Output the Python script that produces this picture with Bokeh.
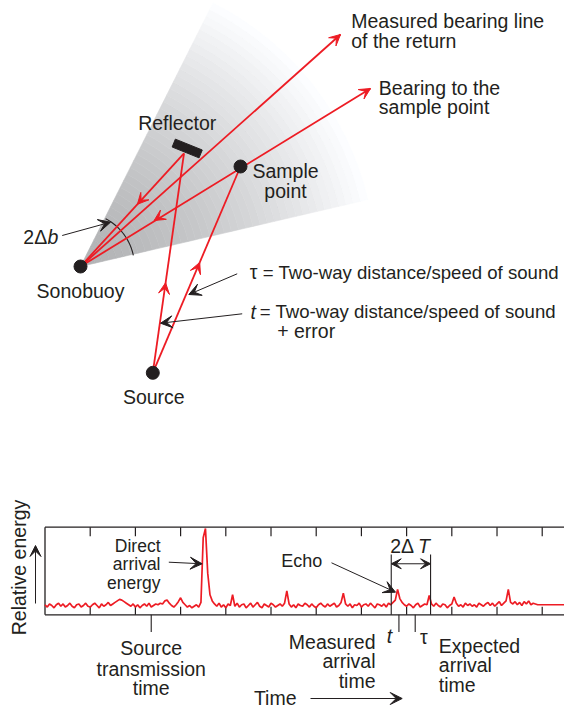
import numpy as np
from bokeh.plotting import figure
from bokeh.models import Range1d, Arrow, VeeHead, ColumnDataSource
from bokeh.core.properties import value
from bokeh.embed import file_html
from bokeh.resources import INLINE

RED = "#ed1c24"
INK = "#231f20"
FONT = value("Liberation Sans")

# ---------------- diagram geometry (page pixels, y downward) ----------------
point_x = [80.0, 240.0, 152.3]          # sonobuoy, sample point, source
point_y = [266.0, 166.0, 372.3]
sonobuoy = (point_x[0], point_y[0])
sample_pt = (point_x[1], point_y[1])
source_pt = (point_x[2], point_y[2])
reflector_foot = (183.5, 152.8)
measured_tip = (340.0, 34.0)
bearing_tip = (370.0, 88.0)
reflector_center = (186.7, 148.0)
reflector_size = (29.0, 8.5)
reflector_tilt_deg = 22.0
beam_edges_deg = (13.1, 63.3)
beam_reach = 295.0
arc_radius = 54.0
arc_span_deg = (11.8, 62.3)

# ---------------- time series chart ----------------
tick_times = [10, 20, 30, 40, 50, 60, 70, 80, 90, 100, 110]
trace_start, trace_step = 0.0, 0.5
trace_energy = [
    1, -2, 2, 0, -3, 1, 3, -1, 2, -2,
    0, 3, -1, -3, 1, 2, -2, 0, 3, -1,
    -2, 1, 3, 0, -3, 2, -1, 1, 4, 0,
    2, 4, 6, 8, 7, 5, 3, 1, -1, 2,
    -2, 1, -3, 0, 2, -1, 3, -2, 0, 2,
    1, 3, 2, 6, 7, 3, 0, -2, 1, 5,
    10, 4, 1, -2, 0, -3, -1, 1, -2, 4,
    88, 100, 42, 14, 6, 2, -1, 3, -2, 1,
    -3, 2, 0, 14, -1, 3, -2, 1, 2, -3,
    0, 3, -2, 1, 4, -1, -3, 2, 0, -2,
    3, 1, -2, 0, 2, -1, 3, 19, 2, -2,
    1, -3, 2, 0, -1, 3, 1, -2, 2, -1,
    -3, 1, 3, 0, -2, 2, -1, 1, 3, -2,
    0, 4, 16, 2, -1, 2, -3, 1, 0, 3,
    -2, 1, 2, -1, 3, 0, -3, 2, 1, -1,
    2, -2, 3, 1, 4, 7, 21, 9, 4, 1,
    -1, 2, 0, -3, 1, 3, -2, 0, 2, 1,
    13, 2, -1, 3, 0, -2, 2, 1, -3, 0,
    2, 11, 3, -1, 1, -2, 3, 0, 2, -1,
    1, -2, 3, 1, -1, 2, 4, 0, 3, -1,
    2, 5, 0, 3, 6, 21, 4, 2, 5, 1,
    4, 0, 5, 2, 6, 1, 3, 2,
]
tail_times = [109.0, 117.0]
tail_energy = [1, 1]
source_time = 23.5
bracket_times = [76.6, 85.3]        # 2ΔT bracket
arrival_mark_times = [78.3, 81.9]   # t and tau marks
box_energy = (-12.1, 101.7)

# ---------------- figure ----------------
p = figure(width=564, height=710, output_backend="svg", toolbar_location=None,
           x_range=Range1d(0, 564), y_range=Range1d(710, 0),
           x_axis_type=None, y_axis_type=None, min_border=0)
p.outline_line_color = None
p.background_fill_color = "white"
p.extra_x_ranges = {"time": Range1d(-9.845, 114.93)}
p.extra_y_ranges = {"energy": Range1d(-136.36, 785.71)}
TR = dict(x_range_name="time", y_range_name="energy")


def text(xs, ys, texts, align="left", size="19.5px", style="normal", angle=0.0, **kw):
    src = ColumnDataSource(dict(x=xs, y=ys, text=texts))
    p.text(x="x", y="y", text="text", source=src, text_font=FONT, text_font_size=size,
           text_align=align, text_baseline="middle", text_color=INK,
           text_font_style=style, angle=angle, **kw)


def arrow(a, b, color=INK, width=1.0, size=11, body=True, **kw):
    p.add_layout(Arrow(x_start=a[0], y_start=a[1], x_end=b[0], y_end=b[1],
                       line_color=color, line_width=width, line_alpha=1.0 if body else 0.0,
                       end=VeeHead(size=size, fill_color=color, line_color=color, line_width=1),
                       **kw))


def along(a, b, f):
    return (a[0] + (b[0] - a[0]) * f, a[1] + (b[1] - a[1]) * f)


# beam shading (radial fade)
cx, cy = sonobuoy
n_bands = 40
th = np.radians(np.linspace(beam_edges_deg[0], beam_edges_deg[1], 30))
bx, by, bc = [], [], []
for i in range(n_bands):
    r0 = beam_reach * i / n_bands
    r1 = beam_reach * (i + 1) / n_bands
    xs = list(cx + r1 * np.cos(th)) + list(cx + r0 * np.cos(th[::-1]))
    ys = list(cy - r1 * np.sin(th)) + list(cy - r0 * np.sin(th[::-1]))
    g = 180 + (255 - 180) * ((i + 0.5) / n_bands) ** 1.5
    bx.append(xs)
    by.append(ys)
    bc.append("#%02x%02x%02x" % (int(g - 1), int(g), int(min(255, g + 2))))
p.patches(bx, by, fill_color=bc, line_color=bc, line_width=0.6)

# angle arc
ta = np.radians(np.linspace(arc_span_deg[0], arc_span_deg[1], 40))
p.line(cx + arc_radius * np.cos(ta), cy - arc_radius * np.sin(ta), line_color=INK, line_width=1.1)

# red ray paths
seg_a = [sonobuoy, sonobuoy, reflector_foot, source_pt, source_pt]
seg_b = [measured_tip, bearing_tip, sonobuoy, reflector_foot, sample_pt]
p.segment([a[0] for a in seg_a], [a[1] for a in seg_a], [b[0] for b in seg_b], [b[1] for b in seg_b],
          line_color=RED, line_width=1.8)
for tip in (measured_tip, bearing_tip):
    arrow(along(sonobuoy, tip, 0.95), tip, color=RED, size=11, body=False)
for a, b, f in [(reflector_foot, sonobuoy, 0.45), (sample_pt, sonobuoy, 0.54),
                (source_pt, reflector_foot, 0.41), (source_pt, sample_pt, 0.535)]:
    arrow(along(a, b, f - 0.06), along(a, b, f), color=RED, size=11, body=False)

# points
p.scatter(point_x, point_y, size=13, color=INK)

# reflector
ang = np.radians(reflector_tilt_deg)
u = np.array([np.cos(ang), np.sin(ang)])
nrm = np.array([-np.sin(ang), np.cos(ang)])
c = np.array(reflector_center)
L, W = reflector_size
corners = [c - u * L / 2 - nrm * W / 2, c + u * L / 2 - nrm * W / 2,
           c + u * L / 2 + nrm * W / 2, c - u * L / 2 + nrm * W / 2]
p.patch([q[0] for q in corners], [q[1] for q in corners], fill_color=INK, line_color=INK)

# black pointer arrows (diagram)
arrow((61.7, 235.0), (110.0, 221.7), size=12)
arrow((236.7, 273.3), (188.3, 294.0), size=12)
arrow((241.7, 313.3), (160.0, 322.7), size=12)

# diagram texts
text([350.7, 350.7, 378.3, 378.3], [20.7, 40.7, 87.3, 106.7],
     ["Measured bearing line", "of the return", "Bearing to the", "sample point"])
text([176.7, 285.0, 285.0, 80.0, 153.3], [122.7, 170.7, 190.0, 290.7, 396.0],
     ["Reflector", "Sample", "point", "Sonobuoy", "Source"], align="center")
text([46.7], [236.7], ["2Δ"], align="right")
text([46.9], [236.7], ["b"], style="italic")
text([249.3], [271.7], ["τ"])
text([250.0], [311.0], ["t"], style="italic")
text([262.3, 259.3], [271.7, 311.0],
     ["= Two-way distance/speed of sound", "= Two-way distance/speed of sound"], size="18.6px")
text([276.7], [330.7], ["+ error"])

# ---------------- chart box ----------------
t_right = 117.0
p.segment([0, 0, 0], [box_energy[0], box_energy[1], box_energy[0]],
          [0, t_right, t_right], [box_energy[1], box_energy[1], box_energy[0]],
          line_color=INK, line_width=1.3, **TR)
p.segment(tick_times, [box_energy[1]] * len(tick_times), tick_times,
          [box_energy[1] - 11.7] * len(tick_times), line_color=INK, line_width=1.2, **TR)
p.segment(tick_times, [box_energy[0]] * len(tick_times), tick_times,
          [box_energy[0] + 10.4] * len(tick_times), line_color=INK, line_width=1.2, **TR)

# trace
trace_t = trace_start + trace_step * np.arange(len(trace_energy))
p.line(list(trace_t) + tail_times, trace_energy + tail_energy, line_color=RED, line_width=1.7, **TR)

# event lines
p.segment(bracket_times, [box_energy[0]] * 2, bracket_times, [66.2] * 2,
          line_color=INK, line_width=1.1, **TR)
marks = [source_time] + arrival_mark_times
p.segment(marks, [box_energy[0]] * 3, marks, [-34.4] * 3, line_color=INK, line_width=1.1, **TR)
p.add_layout(Arrow(x_start=bracket_times[0], y_start=54.2, x_end=bracket_times[1], y_end=54.2,
                   line_color=INK, line_width=1.0,
                   start=VeeHead(size=10, fill_color=INK, line_color=INK),
                   end=VeeHead(size=10, fill_color=INK, line_color=INK), **TR))

# chart pointers
arrow((168.3, 561.7), (201.7, 563.3), size=12)
arrow((331.0, 562.3), (395.0, 591.7), size=12)
arrow((35.0, 603.0), (35.0, 545.0), size=11)
arrow((310.0, 698.0), (401.7, 698.0), size=12)

# chart texts
text([160.0, 160.0, 160.0], [545.0, 563.5, 582.0], ["Direct", "arrival", "energy"],
     align="right", size="17.5px")
text([321.7], [560.0], ["Echo"], align="right", size="18px")
text([413.5], [545.0], ["2Δ"], align="right")
text([417.5], [545.0], ["T"], style="italic")
text([389.0], [635.0], ["t"], align="center", style="italic")
text([423.3], [636.0], ["τ"], align="center")
text([150.7, 150.7, 150.7], [647.7, 668.0, 687.3], ["Source", "transmission", "time"], align="center")
text([375.0, 375.0, 375.0], [641.0, 660.5, 680.0], ["Measured", "arrival", "time"], align="right")
text([438.3, 438.3, 438.3], [645.0, 664.3, 684.0], ["Expected", "arrival", "time"])
text([296.0], [697.0], ["Time"], align="right")
text([18.3], [567.0], ["Relative energy"], align="center", angle=np.pi / 2)

open("out.html", "w").write(file_html(p, INLINE))
